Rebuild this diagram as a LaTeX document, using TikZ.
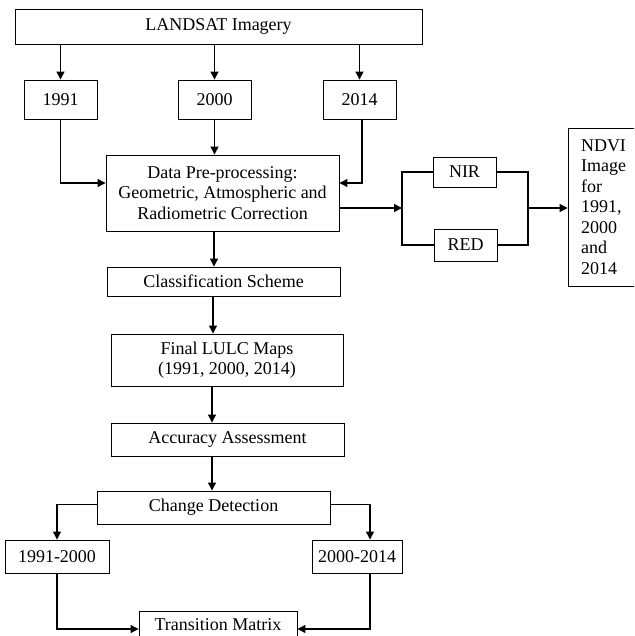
\documentclass[tikz,border=0pt]{standalone}
\usepackage{fontspec}
\setmainfont{Liberation Serif}
\usetikzlibrary{arrows.meta}
\begin{document}
\begin{tikzpicture}[x=1pt,y=-1pt,
  box/.style={draw, line width=0.9pt, inner sep=0pt, align=center, font=\fontsize{18}{20.5}\selectfont},
  arr/.style={line width=1.2pt, -{Triangle[length=8pt,width=8pt]}},
  ln/.style={line width=1.2pt}]
\useasboundingbox (0,0) rectangle (634,636);
\clip (0,0) rectangle (634,636);
% nodes
\node[box, minimum width=407pt, minimum height=35pt] (land) at (218.5,26.5) {LANDSAT Imagery};
\node[box, minimum width=73pt, minimum height=39pt] (y91) at (60.5,99.5) {1991};
\node[box, minimum width=73pt, minimum height=39pt] (y00) at (214.5,99.5) {2000};
\node[box, minimum width=73pt, minimum height=39pt] (y14) at (359.5,99.5) {2014};
\node[box, minimum width=233pt, minimum height=76pt] (dp) at (222.5,193) {Data Pre-processing:\\Geometric, Atmospheric and\\Radiometric Correction};
\node[box, minimum width=63pt, minimum height=30pt] (nir) at (464.5,172) {NIR};
\node[box, minimum width=63pt, minimum height=32pt] (red) at (465.5,245) {RED};
\node[box, minimum width=80pt, minimum height=158pt, text width=54pt, inner xsep=13pt, align=left] (ndvi) at (608,207) {NDVI\\Image\\for\\1991,\\2000\\and\\2014};
\node[box, minimum width=233pt, minimum height=29pt] (cls) at (223.5,281.5) {Classification Scheme};
\node[box, minimum width=232pt, minimum height=52pt] (fin) at (227,360) {Final LULC Maps\\(1991, 2000, 2014)};
\node[box, minimum width=233pt, minimum height=33pt] (acc) at (227.5,439.5) {Accuracy Assessment};
\node[box, minimum width=233pt, minimum height=33pt] (cd) at (213.5,507.5) {Change Detection};
\node[box, minimum width=104pt, minimum height=33pt] (p1) at (57,556.5) {1991-2000};
\node[box, minimum width=90pt, minimum height=33pt] (p2) at (357,556.5) {2000-2014};
\node[box, minimum width=158pt, minimum height=28pt] (tm) at (218,625) {Transition Matrix};
\coordinate (sl) at (402,208);
\coordinate (sr) at (528,208);
% connectors
\draw[arr] (land.south -| y91) -- (y91.north);
\draw[arr] (land.south -| y00) -- (y00.north);
\draw[arr] (land.south -| y14) -- (y14.north);
\draw[arr] (y91.south) |- ([yshift=10pt]dp.west);
\draw[arr] (y00.south) -- (dp.north -| y00);
\draw[arr] ([xshift=2.5pt]y14.south) |- ([yshift=10pt]dp.east);
\draw[arr] ([yshift=-15pt]dp.east) -- (sl);
\draw[ln] (nir.west) -| (sl) |- (red.west);
\draw[ln] (nir.east) -| (sr) |- (red.east);
\draw[arr] (sr) -- (ndvi.west |- sr);
\draw[arr] (dp.south -| 214,0) -- (cls.north -| 214,0);
\draw[arr] (cls.south -| 213,0) -- (fin.north -| 213,0);
\draw[arr] (fin.south -| 212,0) -- (acc.north -| 212,0);
\draw[arr] (acc.south -| 212,0) -- (cd.north -| 212,0);
\draw[arr] ([yshift=3pt]cd.west) -| (p1.north);
\draw[arr] ([yshift=3pt]cd.east) -| ([xshift=13pt]p2.north);
\draw[arr] (p1.south) |- ([yshift=-4pt]tm.west);
\draw[arr] ([xshift=13pt]p2.south) |- ([yshift=-4pt]tm.east);
\end{tikzpicture}
\end{document}
